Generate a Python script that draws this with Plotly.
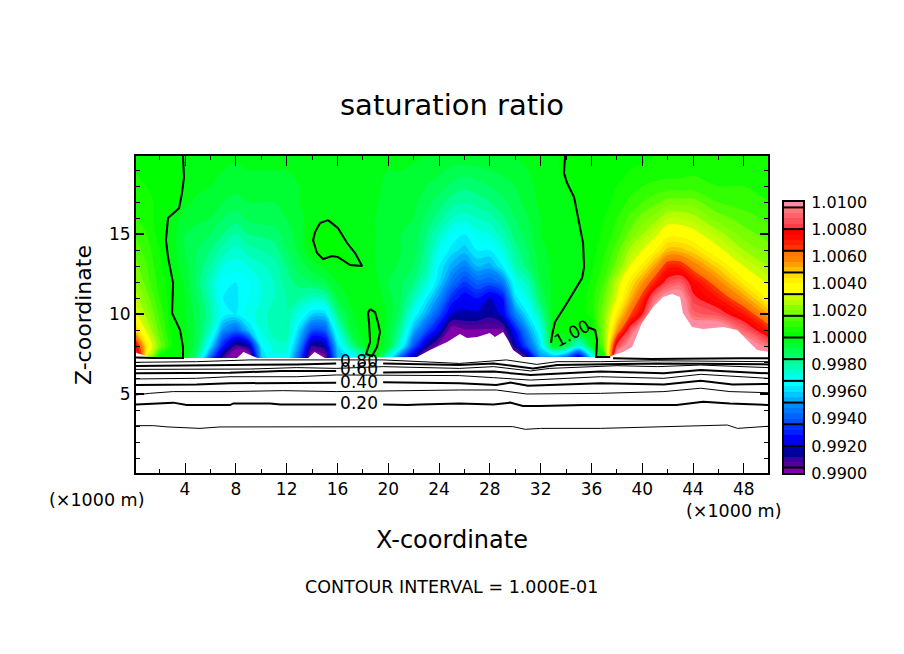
import numpy as np
import plotly.graph_objects as go

W, H = 904, 654
FONT = "DejaVu Sans"

x_km = list(range(0, 45)) + [46, 48, 50]
z_km = [7.27, 8, 9, 10, 11, 12, 13, 14, 15, 16, 17, 18, 19, 19.9]

# saturation ratio minus one, in 1e-4, one list per x_km column (bottom to top)
ratio_columns = [
    [110, 82, 50, 35, 28, 22, 18, 15, 12, 9, 7, 5, 4, 4],
    [30, 42, 30, 22, 18, 14, 12, 10, 8, 6, 5, 4, 3, 3],
    [1, 18, 14, 11, 8, 6, 5, 4, 2, 2, 3, 3, 3, 2],
    [1, 3, 2, 1, 1, 1, -2, -2, -2, -2, 1, 2, 1, 1],
    [-1, -1, -2, -4, -4, -5, -6, -8, -8, -6, -3, -1, -1, -1],
    [-20, -12, -10, -10, -12, -14, -13, -12, -10, -7, -5, -3, -2, -2],
    [-60, -38, -24, -20, -22, -24, -20, -16, -12, -8, -6, -4, -3, -2],
    [-92, -72, -50, -34, -36, -34, -28, -22, -16, -12, -8, -5, -4, -3],
    [-110, -92, -58, -36, -37, -36, -30, -26, -20, -14, -10, -6, -5, -3],
    [-110, -85, -42, -30, -32, -33, -28, -22, -16, -11, -8, -5, -4, -3],
    [-42, -36, -28, -26, -28, -28, -25, -20, -15, -10, -8, -5, -4, -3],
    [-30, -26, -22, -22, -24, -24, -22, -18, -14, -10, -8, -6, -4, -3],
    [-30, -26, -20, -20, -20, -18, -16, -12, -10, -8, -6, -5, -4, -3],
    [-60, -50, -40, -30, -20, -14, -10, -7, -6, -5, -4, -4, -3, -3],
    [-105, -90, -62, -40, -24, -12, -6, -1, 1, -2, -2, -2, -2, -2],
    [-100, -85, -60, -40, -22, -9, -3, 2, 2, -1, -2, -2, -2, -2],
    [-45, -40, -28, -16, -8, -4, -1, 2, 1, -1, -2, -2, -2, -2],
    [-38, -20, -8, -5, -3, -2, 1, -1, -2, -3, -2, -2, -2, -2],
    [-30, -5, -2, -1, -2, -2, -1, -3, -3, -3, -3, -2, -2, -2],
    [-2, 1, 1, 1, -1, -3, -4, -4, -4, -4, -3, -3, -2, -2],
    [-30, -8, -6, -5, -6, -8, -6, -6, -8, -8, -7, -5, -4, -3],
    [-62, -30, -20, -14, -12, -11, -9, -8, -8, -8, -7, -5, -4, -3],
    [-85, -62, -45, -32, -22, -16, -12, -10, -9, -8, -7, -6, -5, -3],
    [-110, -85, -62, -46, -36, -26, -20, -18, -16, -13, -10, -8, -6, -4],
    [-110, -100, -78, -62, -50, -40, -36, -30, -24, -18, -14, -10, -7, -4],
    [-110, -110, -102, -80, -68, -55, -46, -38, -32, -24, -18, -13, -9, -5],
    [-110, -110, -97, -82, -76, -65, -52, -42, -36, -26, -20, -15, -10, -5],
    [-110, -110, -97, -82, -72, -58, -44, -36, -30, -24, -18, -14, -9, -5],
    [-110, -110, -97, -86, -80, -60, -46, -36, -28, -22, -16, -12, -8, -5],
    [-110, -110, -96, -78, -72, -54, -36, -28, -22, -17, -13, -10, -7, -5],
    [-110, -85, -72, -52, -38, -30, -22, -18, -14, -12, -10, -8, -6, -4],
    [-90, -60, -48, -36, -28, -22, -14, -12, -10, -8, -6, -5, -4, -3],
    [-50, -38, -30, -20, -12, -8, -6, -5, -4, -4, -3, -3, -2, -2],
    [-50, -4, 1, -1, -2, -3, -3, -3, -3, -3, -2, -2, -1, -1],
    [-60, -10, 2, 1, -1, -3, -4, -3, -3, -2, -1, -1, 1, 1],
    [-85, -30, 1, 2, 1, -1, -1, -1, -1, 1, 1, 1, 1, 1],
    [-40, -6, 1, 5, 6, 5, 3, 2, 2, 2, 1, 1, 1, 1],
    [2, 18, 20, 20, 16, 12, 9, 7, 5, 4, 3, 2, 2, 1],
    [110, 84, 55, 42, 32, 28, 18, 14, 10, 8, 5, 4, 2, 2],
    [110, 105, 85, 62, 50, 42, 32, 25, 17, 13, 9, 6, 4, 3],
    [110, 110, 110, 80, 68, 55, 42, 32, 24, 18, 12, 8, 5, 3],
    [110, 110, 110, 110, 92, 70, 54, 40, 30, 22, 15, 9, 6, 4],
    [110, 110, 110, 110, 105, 84, 70, 50, 38, 28, 18, 10, 6, 4],
    [110, 110, 110, 110, 105, 88, 70, 50, 38, 28, 18, 10, 6, 5],
    [110, 110, 110, 90, 82, 76, 60, 46, 35, 26, 18, 10, 7, 5],
    [110, 110, 110, 85, 72, 58, 46, 34, 26, 18, 12, 8, 6, 5],
    [110, 110, 90, 72, 55, 42, 32, 24, 18, 14, 10, 8, 6, 5],
    [110, 92, 70, 52, 38, 30, 24, 18, 14, 11, 8, 6, 5, 4],
]

# top of the blank area (terrain, and ratio outside the colour range)
blank_x = [0, 1.4, 8.1, 8.6, 9.7, 13.7, 14.2, 15, 22.27, 23.29, 24.63, 25.5, 25.65, 26.2, 27, 28, 28.4,
           29.04, 29.43, 29.83, 30.6, 37.47, 37.7, 38.49, 39.2, 39.98, 40.85, 41.64, 42.35, 42.98, 43.2,
           43.92, 44.8, 46.37, 47.47, 48.25, 49.04, 50]
blank_z = [7.64, 7.27, 7.27, 7.65, 7.27, 7.27, 7.65, 7.27, 7.33, 7.77, 8.27, 8.71, 8.77, 8.52, 8.58, 8.83,
           8.58, 8.89, 8.39, 7.77, 7.33, 7.33, 7.46, 7.64, 7.96, 9.46, 10.46, 11.08, 11.27, 11.08, 10.08,
           9.21, 9.08, 9.21, 9.02, 8.39, 7.77, 7.64]

# contour lines of the ratio; None leaves room for a label
c010_x = [0.14, 1.5, 2.66, 5.18, 6.76, 12.8, 19.6, 24.9, 29.8, 30.8, 32, 36.7, 39.6, 44, 46.7, 47.5, 49.9]
c010_z = [3.04, 3.04, 2.96, 2.87, 2.96, 2.96, 2.96, 2.98, 2.98, 2.81, 2.87, 2.87, 2.92, 3.04, 3.08, 2.87, 3.0]
c020_x = [0.14, 3.08, 4.13, 7.54, 7.8, 10.7, 11.5, 15.9, None, 19.6, 21.5, 22.5, 25.6, 28.3, 29.6, 30.6, 31.95,
          35.3, 42.7, 44.8, 46.9, 49.9]
c020_z = [4.37, 4.48, 4.33, 4.33, 4.43, 4.43, 4.37, 4.37, None, 4.37, 4.33, 4.37, 4.42, 4.37, 4.48, 4.27, 4.27,
          4.33, 4.33, 4.54, 4.43, 4.33]
c030_x = [0.14, 1.2, 3.08, 7.54, 11.7, 15.9, 25.6, 28.5, 30.9, 36.7, 41.7, 44.6, 46.9, 49.9]
c030_z = [4.96, 5.06, 5.17, 5.17, 5.23, 5.17, 5.27, 5.27, 5.02, 5.06, 5.17, 5.38, 5.17, 5.1]
c040_x = [0.14, 4.9, 7.54, 15.9, None, 19.6, 23.3, 25.6, 28.5, 29.6, 31, 36.7, 41.7, 44.6, 47.1, 49.9]
c040_z = [5.58, 5.62, 5.69, 5.73, None, 5.75, 5.69, 5.69, 5.58, 5.73, 5.54, 5.69, 5.62, 5.85, 5.62, 5.64]
c050_x = [0.14, 4.9, 7.54, 12.8, 15.9, 19.6, 25.6, 28.3, 31.2, 36.7, 41.7, 44.6, 49.9]
c050_z = [5.96, 6, 6.1, 6.1, 6.21, 6.21, 6.17, 6.04, 5.89, 6.1, 6, 6.25, 6]
c060_x = [0.14, 4.6, 7.54, 11.5, 15.9, None, 19.6, 25.6, 28.3, 31.2, 36.7, 41.7, 44.6, 49.9]
c060_z = [6.31, 6.31, 6.35, 6.46, 6.46, None, 6.37, 6.42, 6.42, 6.21, 6.42, 6.31, 6.52, 6.31]
c070_x = [0.14, 4.9, 9.1, 12.8, 15.9, 19.6, 25.6, 28.3, 31.2, 32.7, 38, 41.2, 44.6, 49.9]
c070_z = [6.56, 6.58, 6.58, 6.67, 6.62, 6.73, 6.62, 6.73, 6.46, 6.62, 6.79, 6.73, 6.83, 6.67]
c080_x = [0.14, 4.9, 9.1, 12.8, 15.9, None, 19.6, 25.6, 28.3, 31.4, 33.3, 36.7, 41.2, 49.9]
c080_z = [6.77, 6.79, 6.83, 6.87, 6.93, None, 6.93, 6.83, 6.93, 6.62, 6.83, 6.89, 6.93, 6.87]
c090_x = [0.14, 4.9, 9.1, 15.9, 19.6, 25.6, 29.3, 31.7, 33.3, 36.7, 41.2, 49.9]
c090_z = [7.0, 7.04, 7.15, 7.15, 7.15, 6.93, 7.15, 6.87, 7.04, 7.04, 7.1, 7.04]

c100_left_x = [3.84, 3.92, 3.76, 3.53, 2.66, 2.58, 2.5, 2.66, 3.06, 2.98, 3.61, 3.84, 3.84, 1.48, 0.14]
c100_left_z = [19.9, 18.58, 17.58, 16.64, 16.02, 15.46, 14.64, 13.58, 11.96, 10.08, 9.02, 7.96, 7.27, 7.27, 7.3]
c100_loop_x = [15.26, 14.63, 14.24, 14.08, 14.39, 14.87, 15.57, 16.05, 17, 17.94, 17.39, 16.76, 16.05, 15.26]
c100_loop_z = [15.89, 15.71, 15.14, 14.64, 13.83, 13.46, 13.64, 13.58, 13.08, 13.02, 13.83, 14.46, 15.39, 15.89]
c100_small_x = [18.57, 18.96, 19.2, 19.35, 19.12, 18.72, 18.25, 18.57, 18.49, 18.41, 18.57]
c100_small_z = [10.33, 10.14, 9.46, 8.89, 7.96, 7.39, 7.52, 8.27, 9.46, 10.08, 10.33]
c100_right_x = [33.92, 33.84, 34.08, 34.63, 34.94, 35.34, 35.42, 35.26, 34.08, 33.13, 32.9, 32.82, None,
                35.66, 36.29, 36.44, 36.37, 37.47, None, 37.7, 40.7, 47.7, 49.9]
c100_right_z = [19.9, 18.83, 18.21, 17.33, 16.08, 14.46, 12.96, 12.27, 10.71, 9.52, 8.71, 8.21, None,
                9.21, 9.02, 8.39, 7.33, 7.33, None, 7.25, 7.2, 7.25, 7.25]

thin_lines = [(c010_x, c010_z), (c030_x, c030_z), (c050_x, c050_z), (c070_x, c070_z), (c090_x, c090_z)]
thick_lines = [(c020_x, c020_z), (c040_x, c040_z), (c060_x, c060_z), (c080_x, c080_z),
               (c100_left_x, c100_left_z), (c100_loop_x, c100_loop_z), (c100_small_x, c100_small_z),
               (c100_right_x, c100_right_z)]

label_text = ["0.20", "0.40", "0.60", "0.80"]
label_x = [17.7, 17.7, 17.7, 17.7]
label_z = [4.37, 5.69, 6.5, 7.0]

# colour steps of the scale, bottom to top
level_colors = [
    "rgb(130,0,170)",
    "rgb(80,0,150)", "rgb(60,0,160)", "rgb(0,0,150)", "rgb(0,0,170)",
    "rgb(0,0,240)", "rgb(0,0,255)", "rgb(0,30,255)", "rgb(0,50,255)",
    "rgb(0,80,255)", "rgb(0,100,255)", "rgb(0,120,255)", "rgb(0,140,255)",
    "rgb(0,170,255)", "rgb(0,200,255)", "rgb(0,230,255)", "rgb(0,255,255)",
    "rgb(0,255,240)", "rgb(0,255,210)", "rgb(0,255,180)", "rgb(0,255,150)",
    "rgb(0,255,110)", "rgb(0,255,80)", "rgb(0,255,50)", "rgb(0,255,20)",
    "rgb(0,255,0)", "rgb(20,255,0)", "rgb(50,255,0)", "rgb(80,255,0)",
    "rgb(120,255,0)", "rgb(140,255,0)", "rgb(180,255,0)", "rgb(200,255,0)",
    "rgb(255,255,0)", "rgb(255,255,0)", "rgb(255,240,0)", "rgb(255,220,0)",
    "rgb(255,190,0)", "rgb(255,160,0)", "rgb(255,130,0)", "rgb(255,120,0)",
    "rgb(255,50,0)", "rgb(255,30,0)", "rgb(255,10,0)", "rgb(255,0,0)",
    "rgb(255,60,70)", "rgb(255,80,90)", "rgb(255,100,110)", "rgb(255,120,120)",
    "rgb(255,140,160)",
]
scale_dividers = [0.9904, 0.992, 0.9936, 0.9952, 0.9968, 0.9984, 1.0, 1.0016, 1.0032, 1.0048, 1.0064, 1.008, 1.0096]
scale_ticks = [0.99, 0.992, 0.994, 0.996, 0.998, 1.0, 1.002, 1.004, 1.006, 1.008, 1.01]
scale_labels = ["0.9900", "0.9920", "0.9940", "0.9960", "0.9980", "1.0000", "1.0020", "1.0040", "1.0060",
                "1.0080", "1.0100"]

ratio = (1 + np.array(ratio_columns) / 1e4).T

n = len(level_colors)
colorscale = []
for i, c in enumerate(level_colors):
    colorscale.append([i / n, c])
    colorscale.append([(i + 1) / n, c])
level_mid = [0.99 + 0.0004 * (i + 0.5) for i in range(n)]

fig = go.Figure()
fig.add_trace(go.Contour(
    x=x_km, y=z_km, z=ratio,
    autocontour=False,
    contours=dict(start=0.99, end=1.01, size=0.0004, coloring='fill', showlines=False),
    line=dict(width=0),
    colorscale=colorscale, zmin=0.99, zmax=1.01,
    showscale=False, hoverinfo='skip'
))
fig.add_trace(go.Scatter(
    x=blank_x, y=blank_z, mode='lines', fill='tozeroy', fillcolor='white',
    line=dict(width=0), hoverinfo='skip'
))
for xs, zs in thin_lines:
    fig.add_trace(go.Scatter(x=xs, y=zs, mode='lines', line=dict(color='black', width=1), hoverinfo='skip'))
for xs, zs in thick_lines:
    fig.add_trace(go.Scatter(x=xs, y=zs, mode='lines', line=dict(color='black', width=2), hoverinfo='skip'))
fig.add_trace(go.Scatter(
    x=label_x, y=label_z, mode='text', text=label_text,
    textfont=dict(family=FONT, size=17, color='black'), hoverinfo='skip'
))

# colour scale drawn on its own small axes
fig.add_trace(go.Heatmap(
    x=[0.5], y=level_mid, z=[[m] for m in level_mid],
    colorscale=colorscale, zmin=0.99, zmax=1.01,
    showscale=False, hoverinfo='skip', xaxis='x2', yaxis='y2'
))
div_x, div_y = [], []
for d in scale_dividers:
    div_x.extend([0, 1, None])
    div_y.extend([d, d, None])
fig.add_trace(go.Scatter(
    x=div_x, y=div_y, mode='lines', line=dict(color='black', width=2),
    hoverinfo='skip', xaxis='x2', yaxis='y2'
))


def page_text(text, px, py, size, angle=0):
    return dict(x=px / W, y=1 - py / H, xref='paper', yref='paper', text=text, showarrow=False,
                xanchor='center', yanchor='middle', textangle=angle,
                font=dict(family=FONT, size=size, color='black'))


axis_font = dict(family=FONT, size=17, color='black')
fig.update_layout(
    width=W, height=H, autosize=False,
    margin=dict(l=0, r=0, t=0, b=0),
    paper_bgcolor='white', plot_bgcolor='white',
    showlegend=False,
    xaxis=dict(
        domain=[136 / W, 768 / W], range=[0.14, 49.9], tick0=0, dtick=4, automargin=False,
        ticks='inside', ticklen=10, tickwidth=1, tickcolor='black', showgrid=False, zeroline=False,
        showline=True, linewidth=2, linecolor='black', mirror='ticks', tickfont=axis_font,
        minor=dict(dtick=2, tick0=0, ticks='inside', ticklen=4, tickwidth=1, tickcolor='black', showgrid=False),
    ),
    yaxis=dict(
        domain=[1 - 473 / H, 1 - 156 / H], range=[0.08, 19.9], tick0=0, dtick=5, automargin=False,
        ticks='inside', ticklen=8, tickwidth=2, tickcolor='black', showgrid=False, zeroline=False,
        showline=True, linewidth=2, linecolor='black', mirror='ticks', tickfont=axis_font,
        minor=dict(dtick=1, tick0=0, ticks='inside', ticklen=4, tickwidth=1, tickcolor='black', showgrid=False),
    ),
    xaxis2=dict(
        domain=[784 / W, 803 / W], range=[0, 1], anchor='y2', showticklabels=False, ticks='', automargin=False,
        showgrid=False, zeroline=False, showline=True, linewidth=2, linecolor='black', mirror=True,
    ),
    yaxis2=dict(
        domain=[1 - 473 / H, 1 - 202 / H], range=[0.99, 1.01], anchor='x2', side='right', automargin=False,
        tickvals=scale_ticks, ticktext=scale_labels, ticks='', showgrid=False, zeroline=False,
        showline=True, linewidth=2, linecolor='black', mirror=True, ticklabelstandoff=3,
        tickfont=dict(family=FONT, size=16, color='black'),
    ),
    annotations=[
        page_text("saturation ratio", 452, 105, 29),
        page_text("X-coordinate", 452, 540, 24),
        page_text("Z-coordinate", 83, 315, 22, angle=-90),
        page_text("(×1000 m)", 96, 500, 17.5),
        page_text("(×1000 m)", 733, 511, 17.5),
        page_text("CONTOUR INTERVAL = 1.000E-01", 451, 587, 17.5),
        dict(x=34.5, y=8.85, xref='x', yref='y', text="1.00", textangle=-28, showarrow=False,
             font=dict(family=FONT, size=17, color='black')),
    ],
)

fig.write_html("out.html", post_script="document.body.style.margin='0';", config=dict(displayModeBar=False))
